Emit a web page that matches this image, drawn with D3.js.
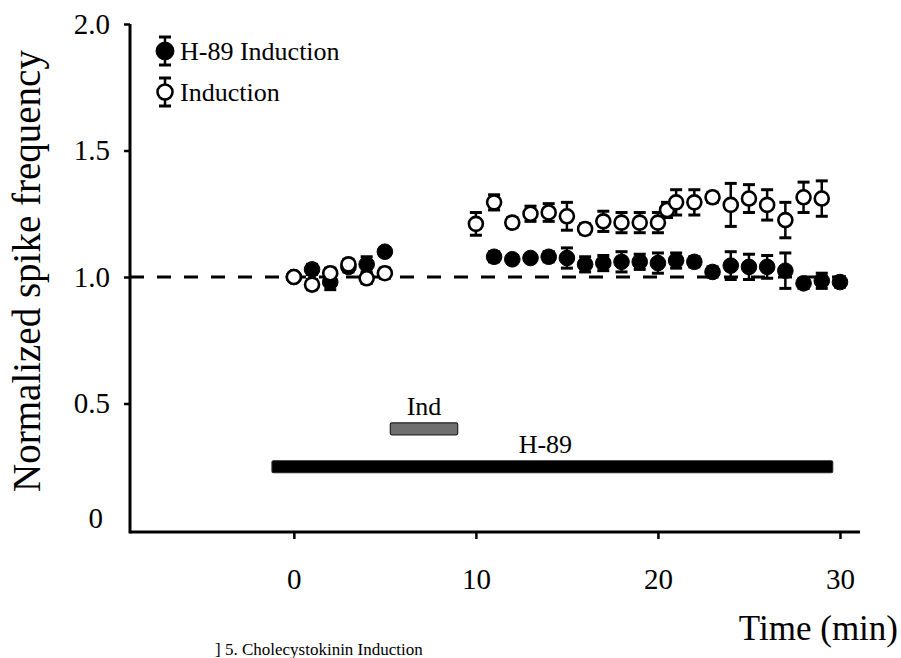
<!DOCTYPE html>
<html>
<head>
<meta charset="utf-8">
<script src="https://cdn.jsdelivr.net/npm/d3@7/dist/d3.min.js"></script>
<style>
  html, body { margin: 0; padding: 0; background: #fff; overflow: hidden; }
  svg { display: block; }
  text { font-family: "Liberation Serif", "DejaVu Serif", serif; fill: #000; }
</style>
</head>
<body>
<svg id="chart" width="901" height="658"></svg>
<script>
// Induction (open circles)
const indTime = [0, 1, 2, 3, 4, 5, 10, 11, 12, 13, 14, 15, 16, 17, 18, 19, 20, 20.5, 21, 22, 23, 24, 25, 26, 27, 28, 29];
const indMean = [1.00, 0.97, 1.015, 1.05, 0.995, 1.015, 1.21, 1.295, 1.215, 1.25, 1.255, 1.24, 1.19, 1.22, 1.215, 1.215, 1.215, 1.265, 1.295, 1.295, 1.315, 1.285, 1.31, 1.285, 1.225, 1.315, 1.31];
const indErr  = [0, 0.02, 0.02, 0.02, 0.02, 0.02, 0.045, 0.03, 0.02, 0.03, 0.035, 0.055, 0.02, 0.04, 0.04, 0.04, 0.04, 0.03, 0.05, 0.05, 0.02, 0.085, 0.055, 0.06, 0.07, 0.06, 0.07];

// H-89 Induction (filled circles)
const h89Time = [0, 1, 2, 3, 4, 5, 11, 12, 13, 14, 15, 16, 17, 18, 19, 20, 21, 22, 23, 24, 25, 26, 27, 28, 29, 30];
const h89Mean = [1.00, 1.03, 0.98, 1.04, 1.05, 1.10, 1.08, 1.07, 1.075, 1.08, 1.075, 1.05, 1.055, 1.06, 1.06, 1.055, 1.065, 1.06, 1.02, 1.045, 1.04, 1.04, 1.025, 0.975, 0.985, 0.98];
const h89Err  = [0, 0.02, 0.03, 0.02, 0.03, 0.01, 0.02, 0.015, 0.015, 0.02, 0.04, 0.03, 0.03, 0.04, 0.03, 0.04, 0.03, 0.02, 0.02, 0.055, 0.05, 0.045, 0.07, 0.02, 0.03, 0.02];

// Application periods (min)
const periodLabels = ["Ind", "H-89"];
const periodStart  = [5.3, -1.2];
const periodEnd    = [9.0, 29.6];

// Axis ticks
const xTicks = [0, 10, 20, 30];
const yTicks = [0, 0.5, 1.0, 1.5, 2.0];
const yTickLabels = ["0", "0.5", "1.0", "1.5", "2.0"];

const seriesNames = ["H-89 Induction", "Induction"];

const SERIF = "'Liberation Serif', 'DejaVu Serif', serif";
const svg = d3.select("#chart");

const x = d3.scaleLinear().domain([-9, 31.1]).range([130, 860]);
const y = d3.scaleLinear().domain([0, 2]).range([530, 24]);

// Baseline at 1.0
svg.append("line")
  .attr("x1", x(-9)).attr("x2", x(30.4))
  .attr("y1", y(1)).attr("y2", y(1))
  .attr("stroke", "#000").attr("stroke-width", 3)
  .attr("stroke-dasharray", "14,13");

// Axes
const xAxis = d3.axisBottom(x).tickValues(xTicks).tickSize(7).tickPadding(29).tickFormat(d3.format("d"));
const gx = svg.append("g").attr("transform", `translate(0,${y(0) + 2})`).call(xAxis);
gx.select(".domain").attr("d", `M${x(-9)},0H${x(31.1)}`);

const yAxis = d3.axisLeft(y).tickValues(yTicks).tickSize(6).tickPadding(14)
  .tickFormat((d, i) => yTickLabels[i]);
const gy = svg.append("g").attr("transform", `translate(${x(-9)},0)`).call(yAxis);
gy.select(".domain").attr("d", `M0,${y(2)}V${y(0) + 3.5}`);
// the zero label sits a little above the corner
gy.selectAll(".tick").filter(d => d === 0).select("line").remove();
gy.selectAll(".tick").filter(d => d === 0).select("text").attr("dy", "-0.05em").attr("y", -1).attr("x", -27);

[gx, gy].forEach(g => {
  g.attr("font-family", SERIF);
  g.select(".domain").attr("stroke", "#000").attr("stroke-width", 3).attr("fill", "none");
  g.selectAll(".tick line").attr("stroke", "#000").attr("stroke-width", 2.5);
  g.selectAll(".tick text").attr("font-size", 29).attr("font-family", SERIF);
});

// Axis titles
svg.append("text")
  .attr("transform", `translate(40,${(y(0) + y(2)) / 2 - 6}) rotate(-90)`)
  .attr("text-anchor", "middle")
  .attr("font-family", SERIF)
  .attr("font-size", 39)
  .text("Normalized spike frequency");

svg.append("text")
  .attr("x", 898).attr("y", 640)
  .attr("text-anchor", "end")
  .attr("font-family", SERIF)
  .attr("font-size", 35)
  .text("Time (min)");

// Application bars
const barY = [y(0.40), y(0.25)];
const barFill = ["#6f6f6f", "#000"];
periodLabels.forEach((lab, i) => {
  svg.append("rect")
    .attr("x", x(periodStart[i]))
    .attr("y", barY[i] - 6)
    .attr("width", x(periodEnd[i]) - x(periodStart[i]))
    .attr("height", 12)
    .attr("rx", 1.5)
    .attr("fill", barFill[i])
    .attr("stroke", "#222").attr("stroke-width", 1.2);
  svg.append("text")
    .attr("x", (x(periodStart[i]) + x(periodEnd[i])) / 2 + (i === 1 ? -7 : 0))
    .attr("y", barY[i] - 14)
    .attr("text-anchor", "middle")
    .attr("font-family", SERIF)
    .attr("font-size", 26)
    .text(lab);
});

// Error bars + markers
function drawSeries(times, means, errs, filled) {
  const g = svg.append("g");
  const pts = times.map((t, i) => ({ t, m: means[i], e: errs[i] }));
  const eb = g.selectAll(".eb").data(pts.filter(d => d.e > 0)).enter().append("g");
  eb.append("line")
    .attr("x1", d => x(d.t)).attr("x2", d => x(d.t))
    .attr("y1", d => y(d.m + d.e)).attr("y2", d => y(d.m - d.e))
    .attr("stroke", "#000").attr("stroke-width", 2.5);
  [1, -1].forEach(s => {
    eb.append("line")
      .attr("x1", d => x(d.t) - 6).attr("x2", d => x(d.t) + 6)
      .attr("y1", d => y(d.m + s * d.e)).attr("y2", d => y(d.m + s * d.e))
      .attr("stroke", "#000").attr("stroke-width", 3);
  });
  g.selectAll("circle").data(pts).enter().append("circle")
    .attr("cx", d => x(d.t)).attr("cy", d => y(d.m))
    .attr("r", filled ? 7.8 : 7)
    .attr("fill", filled ? "#000" : "#fff")
    .attr("stroke", "#000").attr("stroke-width", filled ? 1 : 2.6);
}
drawSeries(h89Time, h89Mean, h89Err, true);
drawSeries(indTime, indMean, indErr, false);

// Legend
const legend = svg.append("g");
seriesNames.forEach((name, i) => {
  const cy = 51 + i * 41;
  const lx = 165;
  legend.append("line").attr("x1", lx).attr("x2", lx).attr("y1", cy - 14).attr("y2", cy + 14)
    .attr("stroke", "#000").attr("stroke-width", 2.5);
  [-14, 14].forEach(o => legend.append("line")
    .attr("x1", lx - 6).attr("x2", lx + 6).attr("y1", cy + o).attr("y2", cy + o)
    .attr("stroke", "#000").attr("stroke-width", 3));
  legend.append("circle").attr("cx", lx).attr("cy", cy)
    .attr("r", i === 0 ? 9 : 7.5)
    .attr("fill", i === 0 ? "#000" : "#fff")
    .attr("stroke", "#000").attr("stroke-width", i === 0 ? 1 : 2.6);
  legend.append("text").attr("x", 180).attr("y", cy + 9)
    .attr("font-family", SERIF)
    .attr("font-size", 26).text(name);
});

// Caption of the following panel
svg.append("text").attr("x", 215).attr("y", 655)
  .attr("font-family", SERIF)
  .attr("font-size", 17).text("] 5. Cholecystokinin Induction");
</script>
</body>
</html>
